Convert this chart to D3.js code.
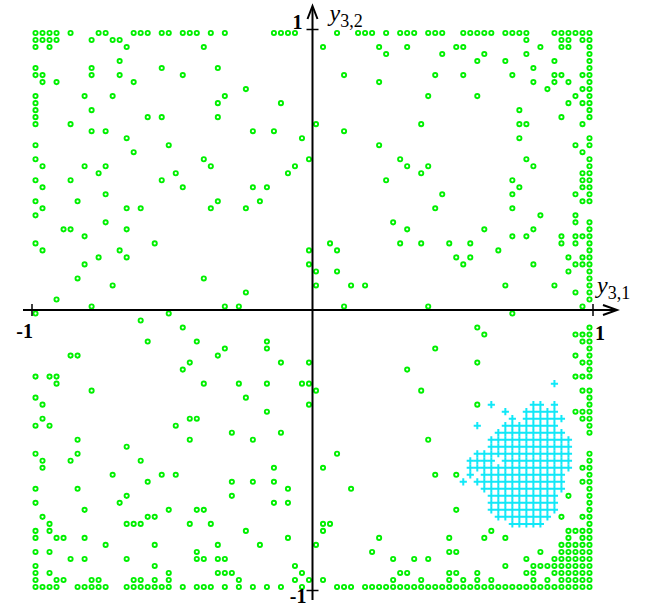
<!DOCTYPE html>
<html>
<head>
<meta charset="utf-8">
<script src="https://cdn.jsdelivr.net/npm/d3@7"></script>
<style>
  body { margin: 0; background: #fff; }
  svg { display: block; }
</style>
</head>
<body>
<div id="chart"></div>
<script>
// phase portrait on a 80x80 grid over [-1,1]x[-1,1]
const CELL = 0.025;
const tickValues = [-1, 1];
const xLabel = ['y', '3,1'];
const yLabel = ['y', '3,2'];

// green circles: column indices (0 = left edge) for each grid row (0 = top)
const greenRows = [
  [0,1,2,3,5,9,10,14,15,16,18,19,21,22,23,25,27,34,35,36,37,43,46,47,48,50,52,53,54,56,57,58,61,62,63,64,65,67,68,69,70,74,75,76,77,78,79], // 0
  [0,1,2,3,8,11,12,70,75,76,78,79],
  [0,2,13,24,41,49,53,60,61,72,75,76,79],
  [50,58,64,70,79],
  [12,63,67,74,79],
  [0,8,18,26,71,79], // 5
  [0,1,8,12,21,44,57,61,68,74,75,78,79],
  [1,3,14,49,71,74,76,79],
  [30,73,78,79],
  [0,7,11,27,56,63,77,79],
  [0,26,35,76,78,79], // 10
  [0,8,69,79],
  [0,16,18,26,75,79],
  [0,5,40,55,69,70,78],
  [8,10,31,34,44],
  [13,38,69,79], // 15
  [0,19,49,77,79],
  [14,78],
  [0,24,39,52,70,79],
  [1,7,10,25,37,53,56,71,79],
  [9,20,36,55,78,79], // 20
  [0,5,18,50,68,78,79],
  [1,21,31,33,69,78,79],
  [10,58,68,77,79],
  [0,6,26,32,78,79],
  [1,13,15,25,30,57,68], // 25
  [0,72,77],
  [10,51,77,79],
  [4,5,13,53,64,71,79],
  [7,68,70,75,77,78,79],
  [0,17,42,52,55,59,62,75,77,79], // 30
  [1,12,39,43,66,79],
  [9,13,60,62,76,78,79],
  [7,39,61,71,77,78,79],
  [40,43,76,79],
  [6,24,79], // 35
  [11,40,45,47,67,74,79],
  [30,77,79],
  [3,79],
  [8,27,29,44,56,78],
  [0,19,68], // 40
  [15],
  [21,63,79],
  [64,77,78,79],
  [16,23,33,78,79],
  [27,33,57,79], // 45
  [5,6,26,77,79],
  [22,35,39,63,78,79],
  [21,53,79],
  [0,2,3,77,78,79],
  [3,24,29,33,38,39], // 50
  [8,40,55,78,79],
  [0,30,79],
  [1,39,63,79],
  [33,77,78,79],
  [1,22,23,78,79], // 55
  [0,2,20,79],
  [28,35,79],
  [6,22,31,56],
  [13],
  [0,6,43,79], // 60
  [1,5,15,79],
  [1,34,41,78,79],
  [11,18,20,57,60,79],
  [16,28,31,34,78,79],
  [0,6,36,45,79], // 65
  [13,28,76,79],
  [0,12,34,36,79],
  [7,19,23,24,60,79],
  [1,16,17,75,78,79],
  [2,13,14,15,22,25,41,42,79], // 70
  [0,2,30,41,65,76,77,78,79],
  [0,3,4,7,36,49,59,64,67,76,78,79],
  [10,17,26,32,40,75,76,77,78,79],
  [0,2,23,48,59,60,72,75,76,77,78,79],
  [5,7,13,23,24,26,27,51,54,56,70,74,75,76,77,78,79], // 75
  [0,17,37,67,71,72,73,74,75,76,77,78,79],
  [0,2,19,26,27,28,38,52,53,59,60,63,70,71,74,75,76,77,78,79],
  [0,3,4,8,9,14,15,17,19,29,37,39,41,51,55,59,61,63,65,71,73,75,76,77,78,79],
  [0,1,2,3,6,7,8,9,10,13,14,15,16,17,18,19,21,23,24,25,27,29,31,33,35,38,43,44,45,47,48,49,50,51,52,53,54,55,56,57,58,59,60,61,62,63,64,65,66,67,68,69,70,71,72,73,74,75,76,77,78,79]
];

// cyan crosses: row index -> column indices
const cyanRowIds = [50,53,54,55,56,57,58,59,60,61,62,63,64,65,66,67,68,69,70];
const cyanCols = [
  [74],
  [65,71,72,74],
  [67,70,71,72,73,74],
  [68,70,71,72,73,74,75],
  [63,67,68,69,70,71,72,73,74],
  [66,67,68,69,70,71,72,73,74,75],
  [65,66,67,68,69,70,71,72,73,74,75,76],
  [65,66,67,68,69,70,71,72,73,74,75,76],
  [63,64,65,66,67,68,69,70,71,72,73,74,75,76],
  [62,63,64,65,67,68,69,70,71,72,73,74,75,76],
  [62,63,64,65,66,67,68,69,70,71,72,73,74,75,76],
  [62,64,65,66,67,68,69,70,71,72,73,74,75],
  [61,63,64,65,66,67,68,69,70,71,72,73,74,75],
  [64,65,66,67,68,69,70,71,72,73,74,75],
  [65,66,67,68,69,70,71,72,73,74],
  [65,66,67,68,69,70,71,72,73,74],
  [65,66,67,68,69,70,71,72,73,74],
  [66,67,68,69,70,71,72,73],
  [68,69,70,71,72]
];

const W = 646, H = 609;
const cellX = c => -1 + (c + 0.5) * CELL;
const cellY = r => 1 - (r + 0.5) * CELL;

const green = [];
greenRows.forEach((cols, r) => cols.forEach(c => green.push({ x: cellX(c), y: cellY(r) })));
const cyan = [];
cyanRowIds.forEach((r, i) => cyanCols[i].forEach(c => cyan.push({ x: cellX(c), y: cellY(r) })));

const x = d3.scaleLinear().domain([-1, 1]).range([32, 593]);
const y = d3.scaleLinear().domain([-1, 1]).range([590.5, 29.5]);

const svg = d3.select('#chart').append('svg')
  .attr('width', W)
  .attr('height', H)
  .style('background', '#fff');

// points
svg.append('g').attr('class', 'green')
  .selectAll('circle')
  .data(green)
  .enter()
  .append('circle')
  .attr('cx', d => x(d.x))
  .attr('cy', d => y(d.y))
  .attr('r', 2.1)
  .attr('fill', 'none')
  .attr('stroke', '#00f000')
  .attr('stroke-width', 1.9);

svg.append('g').attr('class', 'cyan')
  .selectAll('path')
  .data(cyan)
  .enter()
  .append('path')
  .attr('transform', d => `translate(${x(d.x)},${y(d.y)})`)
  .attr('d', 'M-3.6,0H3.6M0,-3.6V3.6')
  .attr('stroke', '#10e8f8')
  .attr('stroke-width', 2)
  .attr('fill', 'none');

// axes through the origin
const x0 = x(0), y0 = y(0);
const axes = svg.append('g').attr('stroke', '#000').attr('stroke-width', 2).attr('fill', 'none');
axes.append('line').attr('x1', 23).attr('x2', 616).attr('y1', y0).attr('y2', y0);
axes.append('line').attr('x1', x0).attr('x2', x0).attr('y1', 600).attr('y2', 7);
axes.append('path').attr('d', `M${603},${y0 - 5}L${617},${y0}L${603},${y0 + 5}`);
axes.append('path').attr('d', `M${x0 - 5},${19}L${x0},${6}L${x0 + 5},${19}`);

// crossing ticks at +-1
svg.append('g').attr('stroke', '#000').attr('stroke-width', 1.5)
  .selectAll('line.tx')
  .data(tickValues)
  .enter()
  .append('line')
  .attr('x1', d => x(d)).attr('x2', d => x(d))
  .attr('y1', y0 - 6).attr('y2', y0 + 6);
svg.append('g').attr('stroke', '#000').attr('stroke-width', 1.5)
  .selectAll('line.ty')
  .data(tickValues)
  .enter()
  .append('line')
  .attr('y1', d => y(d)).attr('y2', d => y(d))
  .attr('x1', x0 - 6).attr('x2', x0 + 6);

// tick labels
const lab = svg.append('g')
  .attr('font-family', '"Liberation Serif", "DejaVu Serif", serif')
  .attr('font-weight', 'bold')
  .attr('font-size', 20)
  .attr('fill', '#000');
lab.append('text').attr('x', x(-1) + 1).attr('y', y0 + 28).attr('text-anchor', 'end').text(tickValues[0]);
lab.append('text').attr('x', x(1) + 2).attr('y', y0 + 30).text(tickValues[1]);
lab.append('text').attr('x', x0 - 10).attr('y', y(1) - 1).attr('text-anchor', 'end').text(tickValues[1]);
lab.append('text').attr('x', x0 - 6).attr('y', 603).attr('text-anchor', 'end').text(tickValues[0]);

// axis names
function axisName(px, py, parts) {
  const t = svg.append('text')
    .attr('x', px).attr('y', py)
    .attr('font-family', '"Liberation Serif", "DejaVu Serif", serif')
    .attr('fill', '#000');
  t.append('tspan').attr('font-style', 'italic').attr('font-size', 24).text(parts[0]);
  t.append('tspan').attr('font-size', 18).attr('dy', 6).text(parts[1]);
}
axisName(x0 + 17, 21, yLabel);
axisName(597, y0 - 17, xLabel);
</script>
</body>
</html>
